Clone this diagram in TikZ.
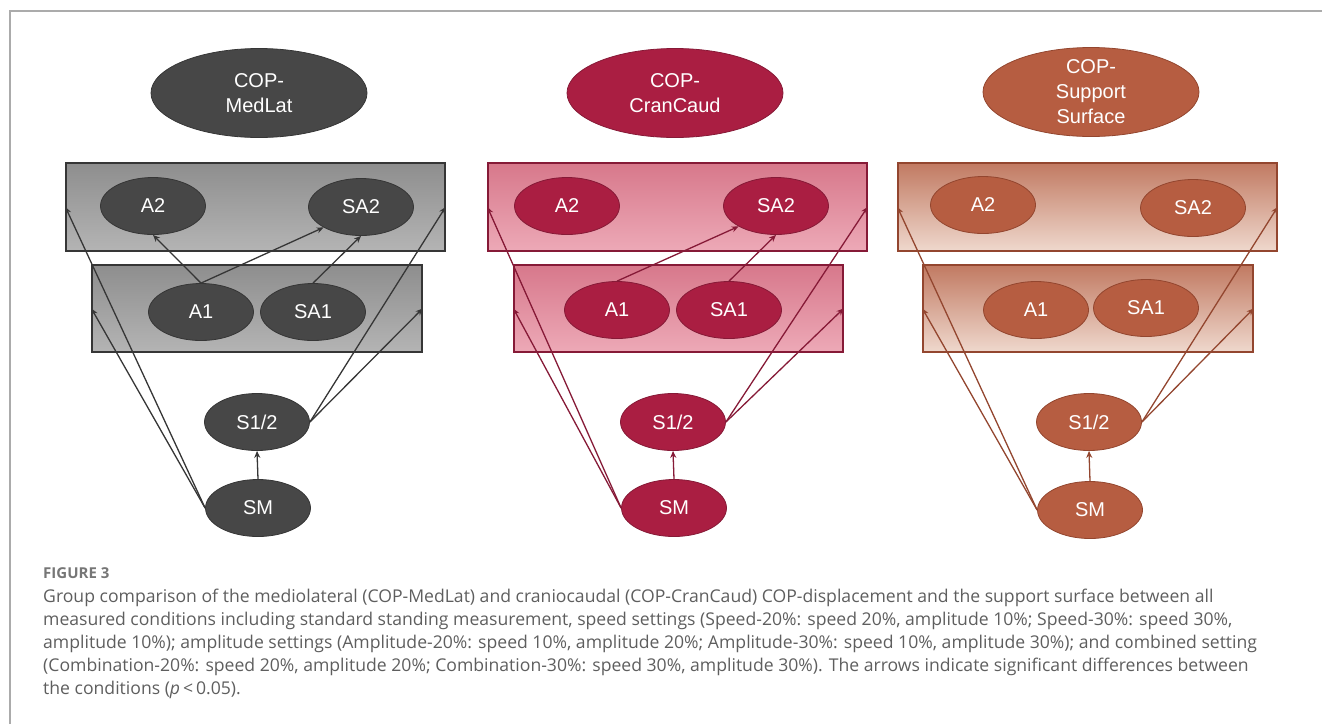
\documentclass[tikz,border=0pt]{standalone}
\usepackage{fontspec}
\setmainfont{Open Sans}
\newfontfamily\diagfont{Liberation Sans}
\usepackage{xcolor}
\usepackage{tikz}
\usetikzlibrary{positioning, shapes.geometric, arrows.meta}

\definecolor{framegray}{HTML}{ABABAB}
\definecolor{capgray}{HTML}{5E5E5E}
\definecolor{figgray}{HTML}{767676}
\definecolor{grayfill}{HTML}{474747}
\definecolor{grayline}{HTML}{363636}
\definecolor{graytop}{HTML}{8E8E8E}
\definecolor{graybot}{HTML}{B4B4B4}
\definecolor{redfill}{HTML}{AA1E42}
\definecolor{redline}{HTML}{861A37}
\definecolor{redtop}{HTML}{D7788B}
\definecolor{redbot}{HTML}{EDA9B7}
\definecolor{brownfill}{HTML}{B65D41}
\definecolor{brownline}{HTML}{93462F}
\definecolor{browntop}{HTML}{C17A62}
\definecolor{brownbot}{HTML}{EFD8CD}

\tikzset{
  cond/.style={ellipse, draw, line width=0.8pt, minimum width=105pt, minimum height=57pt,
    inner sep=0pt, text=white, font=\diagfont\fontsize{20}{25}\selectfont},
  copnode/.style={cond, minimum width=216pt, minimum height=89pt, inner ysep=-14pt, align=center},
  setbox/.style={draw, line width=1.2pt, inner sep=0pt},
  sig/.style={-{Stealth[length=7pt,width=6pt]}, line width=1.3pt},
  grayset/.style={fill=grayfill, draw=grayline},
  redset/.style={fill=redfill, draw=redline},
  brownset/.style={fill=brownfill, draw=brownline},
  capline/.style={anchor=base west, inner sep=0pt, text=capgray, font=\fontsize{17.6}{23}\selectfont},
}

\begin{document}
\begin{tikzpicture}[x=1pt, y=-1pt]
\useasboundingbox (0,0) rectangle (1322,724);
\draw[framegray, line width=1.2pt] (10,724) -- (10,11) -- (1322,11);

% COP-MedLat
\node[setbox, draw=grayline, top color=graytop, bottom color=graybot, minimum width=379pt, minimum height=88pt] (top1) at (255.5,207) {};
\node[setbox, draw=grayline, top color=graytop, bottom color=graybot, minimum width=330pt, minimum height=87pt] (low1) at (257,308.5) {};
\node[copnode, grayset] (cop1) at (259,93) {COP-\\MedLat};
\node[cond, grayset] (a2l) at (153,206) {A2};
\node[cond, grayset] (sa2l) at (361,207) {SA2};
\node[cond, grayset] (a1l) at (201,312) {A1};
\node[cond, grayset] (sa1l) at (313,312) {SA1};
\node[cond, grayset] (s12l) at (257,422) {S1/2};
\node[cond, grayset] (sml) at (258,508) {SM};
\draw[sig, grayline] (a1l.north) -- (a2l.south);
\draw[sig, grayline] (a1l.north) -- (sa2l.south west);
\draw[sig, grayline] (sa1l.north) -- (sa2l.south);
\draw[sig, grayline] (sml.west) -- (top1.west);
\draw[sig, grayline] (sml.west) -- (low1.west);
\draw[sig, grayline] (s12l.east) -- (top1.east);
\draw[sig, grayline] (s12l.east) -- (low1.east);
\draw[sig, grayline] (sml.north) -- (s12l.south);

% COP-CranCaud
\node[setbox, draw=redline, top color=redtop, bottom color=redbot, minimum width=379pt, minimum height=88pt] (top2) at (677.5,207) {};
\node[setbox, draw=redline, top color=redtop, bottom color=redbot, minimum width=329pt, minimum height=87pt] (low2) at (678.5,308.5) {};
\node[copnode, redset] (cop2) at (675,93) {COP-\\CranCaud};
\node[cond, redset] (a2c) at (567,206) {A2};
\node[cond, redset] (sa2c) at (776,206) {SA2};
\node[cond, redset] (a1c) at (617,310) {A1};
\node[cond, redset] (sa1c) at (729,310) {SA1};
\node[cond, redset] (s12c) at (673,422) {S1/2};
\node[cond, redset] (smc) at (674,508) {SM};
\draw[sig, redline] (a1c.north) -- (sa2c.south west);
\draw[sig, redline] (sa1c.north) -- (sa2c.south);
\draw[sig, redline] (smc.west) -- (top2.west);
\draw[sig, redline] (smc.west) -- (low2.west);
\draw[sig, redline] (s12c.east) -- (top2.east);
\draw[sig, redline] (s12c.east) -- (low2.east);
\draw[sig, redline] (smc.north) -- (s12c.south);

% COP-Support Surface
\node[setbox, draw=brownline, top color=browntop, bottom color=brownbot, minimum width=379pt, minimum height=88pt] (top3) at (1087.5,207) {};
\node[setbox, draw=brownline, top color=browntop, bottom color=brownbot, minimum width=330pt, minimum height=87pt] (low3) at (1088,308.5) {};
\node[copnode, brownset] (cop3) at (1091,92) {COP-\\Support\\Surface};
\node[cond, brownset] (a2s) at (983,205) {A2};
\node[cond, brownset] (sa2s) at (1193,208) {SA2};
\node[cond, brownset] (a1s) at (1036,310) {A1};
\node[cond, brownset] (sa1s) at (1146,308) {SA1};
\node[cond, brownset] (s12s) at (1089,422) {S1/2};
\node[cond, brownset] (sms) at (1090,510) {SM};
\draw[sig, brownline] (sms.west) -- (top3.west);
\draw[sig, brownline] (sms.west) -- (low3.west);
\draw[sig, brownline] (s12s.east) -- (top3.east);
\draw[sig, brownline] (s12s.east) -- (low3.east);
\draw[sig, brownline] (sms.north) -- (s12s.south);

% caption
\node[anchor=base west, inner sep=0pt, text=figgray, font=\bfseries\fontsize{15}{17}\selectfont] (figlabel) at (43,578) {FIGURE 3};
\node[capline] (cap1) at (43,602) {Group comparison of the mediolateral (COP-MedLat) and craniocaudal (COP-CranCaud) COP-displacement and the support surface between all};
\node[capline] (cap2) at (43,625) {measured conditions including standard standing measurement, speed settings (Speed-20\%: speed 20\%, amplitude 10\%; Speed-30\%: speed 30\%,};
\node[capline] (cap3) at (43,648) {amplitude 10\%); amplitude settings (Amplitude-20\%: speed 10\%, amplitude 20\%; Amplitude-30\%: speed 10\%, amplitude 30\%); and combined setting};
\node[capline] (cap4) at (43,671) {(Combination-20\%: speed 20\%, amplitude 20\%; Combination-30\%: speed 30\%, amplitude 30\%). The arrows indicate significant differences between};
\node[capline] (cap5) at (43,694) {the conditions (\textit{p}\,<\,0.05).};
\end{tikzpicture}
\end{document}
